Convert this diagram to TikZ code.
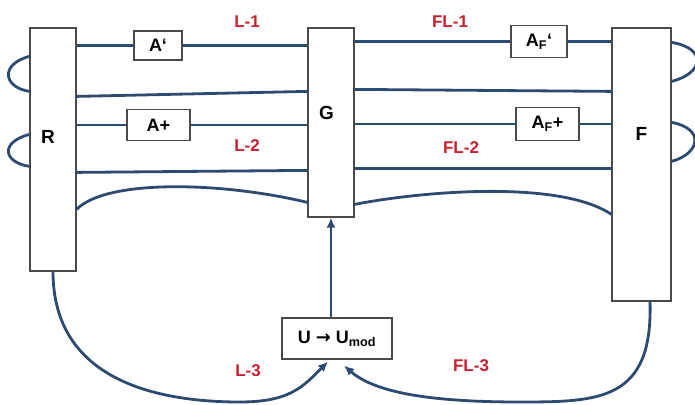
\documentclass[tikz,border=0pt]{standalone}
\usepackage{fontspec}
\setmainfont{Liberation Sans}
\newfontfamily\symfont{DejaVu Sans}
\usetikzlibrary{arrows.meta}
\definecolor{wireblue}{HTML}{2D4A73}
\definecolor{labelred}{HTML}{C8202F}
\definecolor{boxgray}{HTML}{4A4A4A}

\begin{document}
\begin{tikzpicture}[x=1pt,y=1pt,
    blk/.style={draw=boxgray,line width=1.2pt,fill=white,inner sep=0pt},
    tag/.style={blk,font=\fontsize{18}{21}\selectfont\bfseries},
    big/.style={font=\fontsize{19}{22}\selectfont\bfseries},
    wire/.style={draw=wireblue,line width=2.8pt},
    lbl/.style={text=labelred,font=\fontsize{17}{20}\selectfont\bfseries},
    tip/.style={-{Latex[length=10pt,width=9pt]}}]
\useasboundingbox (0,0) rectangle (695,404);

        % the three columns and the modifier box
        \node[blk,minimum width=46pt,minimum height=243pt,label={[big,xshift=-5pt,yshift=12.5pt]center:R}] (R) at (53,254.5) {};
        \node[blk,minimum width=46pt,minimum height=189pt,label={[big,xshift=-4.5pt,yshift=9.5pt]center:G}] (G) at (331,281.5) {};
        \node[blk,minimum width=59pt,minimum height=273pt,label={[big,yshift=30.5pt]center:F}] (F) at (641.5,239.5) {};
        \node[tag,minimum width=110pt,minimum height=41pt] (U) at (337,65.5) {U {\symfont →} U\textsubscript{mod}};

        % amplifier boxes on the wires
        \node[tag,minimum width=48pt,minimum height=29pt] (A1) at (158,358.5) {A‘};
        \node[tag,minimum width=63pt,minimum height=31pt] (A2) at (158.5,279) {A+};
        \node[tag,minimum width=56pt,minimum height=32pt] (AF1) at (539,362.5) {A\textsubscript{F}‘};
        \node[tag,minimum width=63pt,minimum height=33pt] (AF2) at (547.5,280) {A\textsubscript{F}+};

        % straight wires
        \draw[wire] (R.east |- A1) -- (A1.west) (A1.east) -- (G.west |- A1);
        \draw[wire] (G.east |- AF1) -- (AF1.west) (AF1.east) -- (F.west |- AF1);
        \draw[wire] (R.east |- A2) -- (A2.west) (A2.east) -- (G.west |- A2);
        \draw[wire] (G.east |- AF2) -- (AF2.west) (AF2.east) -- (F.west |- AF2);
        \draw[wire] ([yshift=-69pt]R.north east) -- ([yshift=-64pt]G.north west);
        \draw[wire] ([yshift=-62pt]G.north east) -- ([yshift=-64pt]F.north west);
        \draw[wire] ([yshift=-145pt]R.north east) -- ([yshift=-143pt]G.north west);
        \draw[wire] ([yshift=-141pt]G.north east) -- ([yshift=-141pt]F.north west);

        % bent wires under them
        \draw[wire] ([yshift=-182pt]R.north east) .. controls +(29,30) and +(-88,21) .. ([yshift=-175pt]G.north west);
        \draw[wire] ([yshift=-177pt]G.north east) .. controls +(66,13) and +(-52,35) .. ([yshift=-187pt]F.north west);

        % loops round R and F
        \draw[wire] ([yshift=-29pt]R.north west) .. controls +(-30,-8) and +(-26,4) .. ([yshift=-64pt]R.north west);
        \draw[wire] ([yshift=-107pt]R.north west) .. controls +(-30,-8) and +(-26,4) .. ([yshift=-139pt]R.north west);
        \draw[wire] ([yshift=-15pt]F.north east) .. controls +(36,-6) and +(32,8) .. ([yshift=-54pt]F.north east);
        \draw[wire] ([yshift=-95pt]F.north east) .. controls +(33,-6) and +(29,8) .. ([yshift=-134pt]F.north east);

        % feedback into U and on to G
        \draw[wire,tip] (R.south) .. controls +(0,-105) and +(-90,0) .. (240,2) .. controls +(50,0) and +(-25,-25) .. ([xshift=-9pt,yshift=-2pt]U.south);
        \draw[wire,tip] ([xshift=8.5pt]F.south) .. controls +(3,-99) and +(80,0) .. (520,2) .. controls +(-90,0) and +(31,-27) .. ([xshift=7pt,yshift=-6pt]U.south);
        \draw[wire,tip] (U.north -| G.south) -- (G.south);

        % loop names
        \node[lbl] (l1) at (247,382) {L-1};
        \node[lbl] (fl1) at (450,382) {FL-1};
        \node[lbl] (l2) at (247,258) {L-2};
        \node[lbl] (fl2) at (461,256) {FL-2};
        \node[lbl] (l3) at (248,33) {L-3};
        \node[lbl] (fl3) at (471,38) {FL-3};

\end{tikzpicture}
\end{document}
